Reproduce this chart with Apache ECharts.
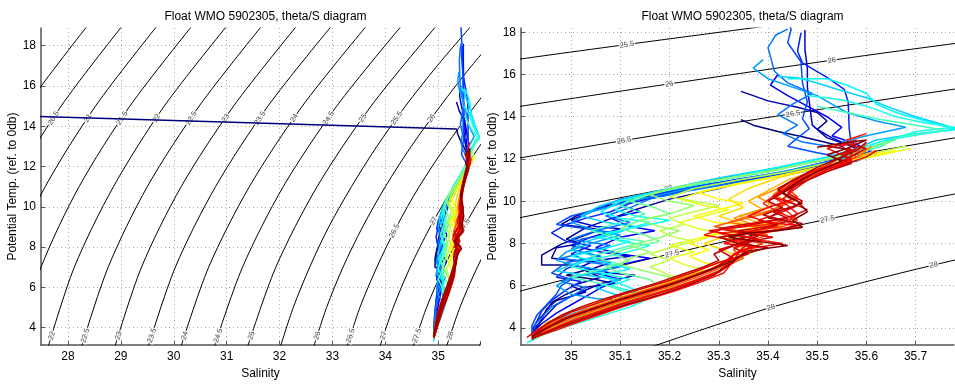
<!DOCTYPE html>
<html><head><meta charset="utf-8">
<script src="https://cdn.jsdelivr.net/npm/echarts@6/dist/echarts.min.js"></script>
<style>html,body{margin:0;padding:0;background:#fff}#c{width:955px;height:385px}</style>
</head><body><div id="c"></div><script>
// ---------- density (sigma-theta) contour levels, salinity read at given temperatures ----------
const sigmaLevels = [20,20.5,21,21.5,22,22.5,23,23.5,24,24.5,25,25.5,26,26.5,27,27.5,28,28.5];
const coarseTemps = [3,7,11,15,19];
const fineTemps = [3,5,7,9,11,13,15,17,19];
const sal200 = [25.12,25.58,26.28,27.22,28.37];
const sal205 = [25.74,26.22,26.93,27.87,29.03];
const sal210 = [26.37,26.85,27.57,28.52,29.69];
const sal215 = [27.00,27.49,28.21,29.17,30.35];
const sal220 = [27.62,28.12,28.86,29.82,31.01];
const sal225 = [28.25,28.76,29.50,30.48,31.67];
const sal230 = [28.88,29.39,30.14,31.13,32.33];
const sal235 = [29.51,30.03,30.79,31.78,32.99];
const sal240 = [30.13,30.66,31.43,32.43,33.65];
const sal245 = [30.76,31.30,32.07,33.08,34.31];
const sal250 = [31.39,31.93,32.71,33.73,34.97];
const sal255 = [32.01,32.26,32.57,32.93,33.36,33.84,34.38,34.98,35.63];
const sal260 = [32.64,32.89,33.20,33.57,34.00,34.49,35.04,35.63,36.29];
const sal265 = [33.27,33.52,33.84,34.21,34.64,35.14,35.69,36.29,36.95];
const sal270 = [33.89,34.15,34.47,34.85,35.29,35.78,36.34,36.95,37.61];
const sal275 = [34.52,34.78,35.11,35.49,35.93,36.43,36.99];
const sal280 = [35.15,35.41,35.74,36.13,36.57,37.08];
const sal285 = [35.77,36.04,36.38,36.77];
const contourSal = [sal200,sal205,sal210,sal215,sal220,sal225,sal230,sal235,sal240,sal245,sal250,sal255,sal260,sal265,sal270,sal275,sal280,sal285];

// ---------- float profiles [salinity, potential temperature], earliest first ----------
const badPoint = [20.0, 15.08];
const p00 = [[35.345,13.86],[35.37,13.6],[35.42,13.3],[35.47,13.05],[35.55,12.6],[35.57,12.2],[35.52,11.8],[35.44,11.4],[35.33,10.9],[35.22,10.5],[35.13,10.1],[35.06,9.7],[35.01,9.3],[34.98,8.9],[35.06,8.66],[34.98,7.97],[34.94,7.45],[34.94,6.98],[35.0,6.98],[35.04,6.8],[34.99,6.5],[35.05,6.3],[35.09,6.1],[35.02,5.9],[34.99,5.6],[34.96,5.2],[34.95,4.8],[34.93,4.3],[34.92,3.8]];
const p01 = [[35.345,15.2],[35.37,15.0],[35.40,14.75],[35.46,14.45],[35.50,14.2],[35.52,13.8],[35.50,13.4],[35.53,13.0],[35.58,12.5],[35.56,12.1],[35.47,11.6],[35.38,11.1],[35.30,10.6],[35.20,10.1],[35.13,9.6],[35.06,9.0],[35.03,8.75],[34.99,8.2],[35.02,8.0],[34.97,7.8],[34.96,7.3],[35.01,7.2],[35.08,7.1],[35.03,6.7],[35.06,6.4],[35.0,6.0],[35.03,5.7],[34.97,5.3],[34.95,4.9],[34.94,4.4],[34.93,4.0],[34.92,3.7]];
const p02 = [[35.475,18.1],[35.475,17.2],[35.48,16.3],[35.48,15.4],[35.485,14.5],[35.49,13.6],[35.52,13.0],[35.57,12.6],[35.60,12.2],[35.55,11.8],[35.42,11.3],[35.30,10.8],[35.18,10.3],[35.10,9.9],[35.04,9.5],[35.00,9.1],[35.05,8.8],[35.10,8.7],[35.04,8.3],[35.0,7.9],[35.06,7.6],[35.12,7.4],[35.05,7.2],[35.02,6.9],[35.08,6.6],[35.13,6.5],[35.06,6.1],[35.03,5.8],[35.0,5.5],[34.97,5.1],[34.95,4.6],[34.93,4.1],[34.92,3.6]];
const p03 = [[35.42,16.0],[35.405,15.5],[35.44,15.0],[35.48,14.5],[35.52,14.0],[35.55,13.5],[35.53,13.1],[35.58,12.7],[35.61,12.3],[35.57,11.9],[35.45,11.45],[35.33,11.0],[35.23,10.6],[35.15,10.2],[35.10,9.8],[35.14,9.5],[35.08,9.2],[35.12,8.8],[35.17,8.6],[35.1,8.3],[35.05,7.8],[35.1,7.5],[35.16,7.3],[35.1,7.0],[35.05,6.6],[35.1,6.3],[35.06,5.9],[35.03,5.5],[35.0,5.1],[34.97,4.7],[34.94,4.2],[34.92,3.7]];
const p04 = [[35.467,17.97],[35.46,17.1],[35.47,16.55],[35.52,15.86],[35.555,15.3],[35.563,14.7],[35.565,13.43],[35.57,12.6],[35.62,12.3],[35.58,11.9],[35.48,11.5],[35.38,11.1],[35.28,10.7],[35.2,10.35],[35.12,9.9],[35.08,9.5],[35.03,9.2],[34.99,8.9],[34.96,8.5],[34.99,8.1],[35.04,7.9],[35.0,7.5],[35.03,7.2],[34.99,6.8],[34.97,6.4],[35.02,6.2],[34.99,5.8],[34.96,5.3],[34.94,4.8],[34.93,4.3],[34.92,3.9]];
const p05 = [[35.43,18.95],[35.447,18.14],[35.44,17.5],[35.467,16.6],[35.47,15.6],[35.48,14.7],[35.47,13.9],[35.484,13.43],[35.46,13.0],[35.44,12.6],[35.50,12.3],[35.57,12.0],[35.50,11.6],[35.40,11.2],[35.28,10.8],[35.18,10.4],[35.1,10.1],[35.05,9.6],[35.0,9.3],[34.97,8.9],[35.03,8.7],[35.09,8.5],[35.02,8.2],[35.0,7.7],[35.06,7.4],[34.99,7.1],[34.96,6.6],[35.0,6.3],[34.98,6.0],[34.97,5.6],[34.95,5.1],[34.93,4.6],[34.92,4.1],[34.92,3.7]];
const p06 = [[35.44,18.15],[35.416,17.87],[35.40,17.27],[35.413,16.15],[35.44,15.6],[35.49,15.1],[35.45,14.6],[35.42,14.1],[35.46,13.6],[35.43,13.2],[35.47,12.8],[35.55,12.5],[35.62,12.2],[35.56,11.8],[35.45,11.3],[35.34,10.9],[35.24,10.5],[35.16,10.1],[35.12,9.7],[35.07,9.3],[35.12,9.0],[35.05,8.6],[35.0,8.2],[35.08,7.9],[35.03,7.6],[34.98,7.3],[35.04,7.1],[35.1,6.9],[35.02,6.5],[34.98,6.2],[35.03,5.9],[35.0,5.5],[34.96,5.0],[34.94,4.5],[34.92,4.0],[34.92,3.6]];
const p07 = [[35.39,16.7],[35.37,16.3],[35.40,15.8],[35.45,15.4],[35.5,15.0],[35.53,14.6],[35.56,14.2],[35.62,13.8],[35.68,13.5],[35.6,13.1],[35.55,12.8],[35.6,12.4],[35.55,12.0],[35.45,11.5],[35.34,11.0],[35.22,10.5],[35.12,10.0],[35.04,9.5],[35.0,9.0],[35.05,8.6],[35.1,8.4],[35.04,8.0],[34.99,7.6],[34.97,7.2],[35.02,6.9],[35.07,6.7],[35.0,6.4],[34.97,6.0],[35.0,5.6],[35.05,5.4],[35.1,5.3],[35.03,4.9],[34.97,4.4],[34.94,4.0],[34.92,3.6]];
const p08 = [[35.42,15.9],[35.46,15.85],[35.5,15.6],[35.54,15.3],[35.6,14.9],[35.64,14.5],[35.7,14.0],[35.76,13.6],[35.78,13.4],[35.7,13.2],[35.62,12.9],[35.58,12.5],[35.52,12.1],[35.42,11.6],[35.3,11.1],[35.2,10.6],[35.12,10.2],[35.06,9.8],[35.02,9.3],[35.07,9.0],[35.13,8.8],[35.08,8.4],[35.03,8.1],[35.0,7.7],[35.05,7.4],[35.0,7.0],[34.97,6.7],[35.03,6.5],[35.1,6.3],[35.05,5.9],[35.1,5.5],[35.14,5.3],[35.08,4.9],[35.0,4.3],[34.95,3.9],[34.92,3.5]];
const p09 = [[35.44,15.8],[35.52,15.8],[35.56,15.5],[35.6,15.1],[35.62,14.6],[35.66,14.2],[35.72,13.8],[35.78,13.4],[35.72,13.2],[35.64,12.9],[35.6,12.6],[35.55,12.2],[35.46,11.8],[35.36,11.3],[35.26,10.8],[35.17,10.4],[35.1,10.0],[35.06,9.5],[35.1,9.2],[35.16,9.0],[35.1,8.6],[35.05,8.3],[35.12,8.1],[35.06,7.7],[35.0,7.4],[35.07,7.1],[35.12,6.8],[35.06,6.5],[35.1,6.1],[35.15,5.6],[35.1,5.2],[35.04,4.7],[34.98,4.2],[34.94,3.8],[34.92,3.4]];
const p10 = [[35.48,15.0],[35.55,14.8],[35.6,14.5],[35.66,14.0],[35.72,13.7],[35.78,13.5],[35.7,13.3],[35.66,13.0],[35.63,12.6],[35.57,12.2],[35.48,11.8],[35.38,11.3],[35.28,10.9],[35.18,10.5],[35.12,10.1],[35.09,9.6],[35.13,9.3],[35.2,9.1],[35.14,8.8],[35.07,8.5],[35.1,8.1],[35.16,7.9],[35.1,7.5],[35.03,7.2],[35.0,6.9],[35.06,6.6],[35.12,6.3],[35.08,6.0],[35.13,5.7],[35.17,5.5],[35.12,5.0],[35.05,4.5],[34.98,4.0],[34.94,3.65],[34.91,3.3]];
const p11 = [[35.5,14.5],[35.56,14.2],[35.62,13.9],[35.7,13.6],[35.76,13.35],[35.68,13.1],[35.64,12.8],[35.6,12.5],[35.52,12.0],[35.42,11.5],[35.3,11.0],[35.2,10.6],[35.14,10.2],[35.1,9.8],[35.15,9.4],[35.1,9.0],[35.04,8.6],[35.09,8.3],[35.15,8.1],[35.09,7.7],[35.04,7.4],[35.1,7.0],[35.05,6.7],[35.0,6.4],[35.06,6.1],[35.1,5.8],[35.15,5.5],[35.1,5.1],[35.03,4.5],[34.97,4.0],[34.93,3.55]];
const p12 = [[35.66,12.9],[35.62,12.6],[35.56,12.2],[35.46,11.7],[35.35,11.2],[35.25,10.8],[35.17,10.4],[35.12,10.0],[35.17,9.7],[35.2,9.4],[35.14,9.1],[35.1,8.7],[35.15,8.4],[35.18,8.1],[35.12,7.8],[35.08,7.5],[35.12,7.2],[35.07,6.9],[35.1,6.6],[35.16,6.3],[35.18,5.9],[35.14,5.5],[35.08,5.0],[35.02,4.5],[34.97,4.0],[34.93,3.6]];
const p13 = [[35.64,12.8],[35.6,12.4],[35.52,12.0],[35.42,11.5],[35.32,11.1],[35.22,10.7],[35.16,10.3],[35.2,10.0],[35.25,9.8],[35.2,9.4],[35.14,9.1],[35.18,8.8],[35.22,8.6],[35.17,8.2],[35.12,7.9],[35.16,7.6],[35.12,7.3],[35.1,7.0],[35.15,6.7],[35.2,6.4],[35.22,6.1],[35.17,5.6],[35.1,5.1],[35.03,4.5],[34.97,3.95],[34.93,3.55]];
const p14 = [[35.68,12.6],[35.62,12.3],[35.54,11.9],[35.44,11.4],[35.34,11.0],[35.25,10.6],[35.2,10.2],[35.25,10.0],[35.3,9.8],[35.25,9.5],[35.2,9.2],[35.23,8.9],[35.18,8.6],[35.21,8.3],[35.25,8.1],[35.2,7.8],[35.16,7.5],[35.2,7.2],[35.16,6.9],[35.2,6.5],[35.24,6.3],[35.19,5.9],[35.12,5.35],[35.05,4.8],[34.99,4.25],[34.95,3.85],[34.92,3.5]];
const p15 = [[35.69,12.5],[35.63,12.2],[35.55,11.8],[35.45,11.3],[35.36,10.9],[35.27,10.5],[35.22,10.1],[35.27,9.8],[35.32,9.6],[35.27,9.3],[35.22,9.0],[35.26,8.7],[35.3,8.5],[35.25,8.2],[35.2,7.9],[35.25,7.6],[35.2,7.3],[35.23,7.0],[35.27,6.75],[35.22,6.35],[35.16,5.85],[35.1,5.35],[35.04,4.85],[34.99,4.35],[34.95,3.9],[34.92,3.55]];
const p16 = [[35.66,12.4],[35.6,12.1],[35.52,11.7],[35.42,11.2],[35.33,10.8],[35.26,10.4],[35.3,10.1],[35.35,9.9],[35.3,9.6],[35.25,9.3],[35.29,9.0],[35.35,8.9],[35.42,9.0],[35.36,8.7],[35.29,8.4],[35.24,8.0],[35.28,7.7],[35.24,7.4],[35.27,7.1],[35.3,6.9],[35.24,6.45],[35.18,6.0],[35.12,5.5],[35.06,5.0],[35.0,4.5],[34.95,4.0],[34.92,3.6]];
const p17 = [[35.63,12.35],[35.58,12.0],[35.5,11.6],[35.42,11.1],[35.36,10.6],[35.32,10.1],[35.35,9.7],[35.3,9.3],[35.34,9.0],[35.38,8.7],[35.32,8.4],[35.27,8.0],[35.31,7.7],[35.34,7.35],[35.3,7.1],[35.24,6.6],[35.19,6.2],[35.14,5.85],[35.09,5.5],[35.04,5.1],[34.99,4.7],[34.95,4.25],[34.93,3.9],[34.92,3.65]];
const p18 = [[35.62,12.4],[35.57,12.0],[35.5,11.5],[35.44,11.0],[35.4,10.5],[35.36,10.0],[35.39,9.6],[35.34,9.3],[35.38,9.0],[35.43,8.9],[35.37,8.6],[35.31,8.3],[35.34,7.9],[35.37,7.6],[35.33,7.3],[35.31,7.0],[35.25,6.55],[35.2,6.15],[35.15,5.8],[35.1,5.45],[35.05,5.05],[35.0,4.6],[34.96,4.2],[34.93,3.8]];
const p19 = [[35.6,12.5],[35.58,12.1],[35.52,11.6],[35.46,11.1],[35.42,10.6],[35.38,10.2],[35.41,9.8],[35.37,9.5],[35.33,9.2],[35.37,8.9],[35.42,8.8],[35.36,8.5],[35.32,8.2],[35.35,7.8],[35.3,6.9],[35.25,6.45],[35.2,6.05],[35.15,5.7],[35.1,5.35],[35.05,4.95],[35.0,4.55],[34.96,4.1],[34.92,3.6]];
const p20 = [[35.61,12.6],[35.59,12.2],[35.54,11.7],[35.48,11.2],[35.44,10.8],[35.41,10.3],[35.44,10.0],[35.41,9.6],[35.36,9.3],[35.32,9.0],[35.37,8.8],[35.44,8.7],[35.39,8.5],[35.35,8.1],[35.37,7.8],[35.35,7.4],[35.32,7.05],[35.26,6.6],[35.21,6.2],[35.16,5.85],[35.11,5.5],[35.06,5.1],[35.01,4.7],[34.96,4.25],[34.92,3.7]];
const p21 = [[35.6,12.7],[35.58,12.3],[35.55,11.8],[35.5,11.3],[35.45,10.9],[35.43,10.4],[35.46,10.1],[35.43,9.8],[35.39,9.4],[35.34,9.1],[35.29,8.8],[35.34,8.6],[35.4,8.4],[35.36,8.1],[35.33,7.7],[35.35,7.3],[35.3,6.8],[35.25,6.35],[35.2,5.95],[35.15,5.6],[35.1,5.25],[35.05,4.85],[35.0,4.45],[34.96,4.05],[34.93,3.7],[34.92,3.5]];
const p22 = [[35.58,12.8],[35.56,12.4],[35.58,12.1],[35.53,11.6],[35.48,11.1],[35.44,10.6],[35.46,10.2],[35.42,9.8],[35.44,9.5],[35.46,9.1],[35.43,8.8],[35.37,8.6],[35.3,8.5],[35.34,8.2],[35.39,8.0],[35.34,7.6],[35.3,6.95],[35.25,6.5],[35.2,6.1],[35.15,5.75],[35.1,5.4],[35.05,5.0],[35.0,4.6],[34.96,4.15],[34.93,3.8],[34.92,3.55]];
const p23 = [[35.55,12.6],[35.57,12.2],[35.55,11.8],[35.5,11.4],[35.46,10.9],[35.42,10.4],[35.39,9.9],[35.42,9.5],[35.45,9.2],[35.4,8.9],[35.31,8.7],[35.27,8.4],[35.32,8.2],[35.37,7.9],[35.33,7.5],[35.32,7.1],[35.3,6.7],[35.25,6.25],[35.2,5.85],[35.15,5.5],[35.1,5.15],[35.05,4.75],[35.0,4.35],[34.96,3.95],[34.93,3.65]];
const p24 = [[35.6,13.2],[35.56,12.9],[35.58,12.5],[35.55,12.1],[35.52,11.7],[35.47,11.2],[35.44,10.7],[35.41,10.2],[35.44,9.8],[35.46,9.4],[35.44,9.0],[35.47,8.77],[35.4,8.6],[35.34,8.45],[35.37,8.2],[35.43,8.0],[35.36,7.75],[35.33,7.2],[35.31,6.6],[35.26,6.15],[35.21,5.75],[35.16,5.4],[35.11,5.05],[35.06,4.65],[35.01,4.25],[34.97,3.9],[34.93,3.6],[34.92,3.45]];
const p25 = [[35.55,12.6],[35.58,12.9],[35.52,12.5],[35.57,12.0],[35.5,11.5],[35.45,11.0],[35.42,10.5],[35.45,10.1],[35.4,9.7],[35.36,9.3],[35.4,9.0],[35.46,8.85],[35.41,8.6],[35.36,8.3],[35.31,8.0],[35.37,7.85],[35.33,7.45],[35.29,6.8],[35.24,6.35],[35.19,5.95],[35.14,5.6],[35.09,5.25],[35.04,4.85],[34.99,4.45],[34.95,4.05],[34.92,3.55]];
const p26 = [[35.58,12.5],[35.55,12.2],[35.57,11.9],[35.52,11.5],[35.48,11.0],[35.45,10.5],[35.43,10.1],[35.46,9.8],[35.42,9.4],[35.38,9.1],[35.42,8.85],[35.37,8.6],[35.32,8.35],[35.36,8.0],[35.34,7.6],[35.33,7.1],[35.3,6.65],[35.25,6.2],[35.2,5.8],[35.15,5.45],[35.1,5.1],[35.05,4.7],[35.0,4.3],[34.96,3.9],[34.93,3.6]];
const p27 = [[35.62,12.4],[35.6,12.1],[35.55,11.7],[35.5,11.2],[35.46,10.8],[35.44,10.4],[35.47,10.0],[35.45,9.7],[35.41,9.5],[35.44,9.2],[35.38,8.95],[35.33,8.75],[35.28,8.6],[35.33,8.4],[35.38,8.2],[35.33,7.8],[35.36,7.5],[35.3,7.1],[35.25,6.65],[35.2,6.25],[35.15,5.9],[35.1,5.55],[35.05,5.15],[35.0,4.75],[34.96,4.3],[34.93,3.9],[34.91,3.55]];
const p28 = [[35.56,12.7],[35.6,12.5],[35.56,12.0],[35.51,11.5],[35.47,11.1],[35.44,10.6],[35.41,10.2],[35.45,9.9],[35.48,9.6],[35.45,9.3],[35.41,9.1],[35.35,8.9],[35.3,8.7],[35.35,8.5],[35.41,8.3],[35.35,8.05],[35.3,7.7],[35.33,7.3],[35.28,6.75],[35.23,6.3],[35.18,5.9],[35.13,5.55],[35.08,5.2],[35.03,4.8],[34.98,4.4],[34.95,4.0],[34.93,3.7]];
const p29 = [[35.52,12.6],[35.57,12.45],[35.53,12.1],[35.57,11.8],[35.52,11.4],[35.47,10.9],[35.43,10.4],[35.4,10.0],[35.43,9.7],[35.39,9.35],[35.44,9.05],[35.4,8.8],[35.34,8.6],[35.38,8.35],[35.34,8.0],[35.29,7.5],[35.3,7.2],[35.27,6.9],[35.22,6.5],[35.17,6.1],[35.12,5.75],[35.07,5.4],[35.02,5.0],[34.98,4.6],[34.95,4.2],[34.92,3.6]];
const p30 = [[35.6,12.8],[35.58,12.4],[35.54,12.0],[35.5,11.6],[35.46,11.1],[35.42,10.6],[35.44,10.2],[35.47,9.9],[35.43,9.6],[35.4,9.2],[35.47,8.95],[35.44,8.7],[35.37,8.5],[35.3,8.3],[35.34,8.0],[35.4,7.8],[35.35,7.5],[35.32,7.0],[35.29,6.5],[35.24,6.05],[35.19,5.65],[35.14,5.3],[35.09,4.95],[35.04,4.55],[34.99,4.15],[34.95,3.8],[34.92,3.5]];
const p31 = [[35.5,12.55],[35.55,12.75],[35.6,12.9],[35.56,12.5],[35.52,12.2],[35.55,11.9],[35.5,11.4],[35.46,10.9],[35.43,10.4],[35.46,10.0],[35.48,9.5],[35.45,9.1],[35.47,8.77],[35.42,8.6],[35.36,8.5],[35.32,8.3],[35.38,8.1],[35.44,7.9],[35.36,7.65],[35.33,7.2],[35.3,6.9],[35.25,6.45],[35.2,6.05],[35.15,5.7],[35.1,5.35],[35.05,4.95],[35.0,4.55],[34.96,4.1],[34.92,3.6]];
const profiles = [p00,p01,p02,p03,p04,p05,p06,p07,p08,p09,p10,p11,p12,p13,p14,p15,p16,p17,p18,p19,p20,p21,p22,p23,p24,p25,p26,p27,p28,p29,p30,p31];
// position of each profile on the jet colour scale (time order)
const profileColorPos = [0,0.04,0.08,0.12,0.16,0.2,0.24,0.28,0.33,0.37,0.4,0.44,0.48,0.52,0.56,0.6,0.63,0.66,0.7,0.73,0.76,0.79,0.82,0.845,0.86,0.875,0.89,0.905,0.92,0.94,0.96,1.0];

// tick values
const leftSalTicks = [28,29,30,31,32,33,34,35];
const rightSalTicks = [35,35.1,35.2,35.3,35.4,35.5,35.6,35.7];
const tempTicks = [4,6,8,10,12,14,16,18];

// contour label placements: [grid, level, temperature]
const labelSpots = [
  [0,20.5,14.4],[0,21,14.4],[0,21.5,14.4],[0,22,14.4],[0,22.5,14.4],[0,23,14.4],[0,23.5,14.4],[0,24,14.4],[0,24.5,14.4],[0,25,14.4],[0,25.5,14.4],[0,26,14.4],[0,26.5,14.4],
  [0,22,3.6],[0,22.5,3.6],[0,23,3.6],[0,23.5,3.6],[0,24,3.6],[0,24.5,3.6],[0,25,3.6],[0,26,3.6],[0,26.5,3.6],[0,27,3.6],[0,27.5,3.6],[0,28,3.6],
  [0,26.5,8.8],[0,27,9.3],[0,27.5,9.06],
  [1,25.5,17.41],[1,26,15.54],[1,26,16.66],[1,26.5,14.13],[1,26.5,12.87],[1,27,10.58],[1,27.5,7.5],[1,27.5,9.14],[1,28,4.97],[1,28,6.98]
];

const FONT = '"Liberation Sans", Arial, Helvetica, sans-serif';
function jet(t){const f=v=>Math.round(255*Math.max(0,Math.min(1,v)));return 'rgb('+f(1.5-Math.abs(4*t-3))+','+f(1.5-Math.abs(4*t-2))+','+f(1.5-Math.abs(4*t-1))+')';}
function tempsFor(k){return sigmaLevels[k] < 25.5 ? coarseTemps : fineTemps;}
function salAt(k,T){const ts=tempsFor(k), ss=contourSal[k];
  for(let i=0;i<ss.length-1;i++){ if(T>=ts[i]&&T<=ts[i+1]){const f=(T-ts[i])/(ts[i+1]-ts[i]);return ss[i]+f*(ss[i+1]-ss[i]);} }
  return ss[0];}

const chart = echarts.init(document.getElementById('c'), null, {renderer:'canvas'});
const axisCommon = {
  type:'value', scale:true,
  axisLine:{show:true,onZero:false,lineStyle:{color:'#555',width:1.5}},
  axisTick:{show:true,inside:true,length:4,lineStyle:{color:'#555'}},
  axisLabel:{color:'#000',fontSize:12,fontFamily:FONT},
  splitLine:{show:true,lineStyle:{color:'#aaa',type:[1,3],width:1}},
  nameTextStyle:{color:'#000',fontSize:12,fontFamily:FONT},
  nameLocation:'middle'
};
function xAx(g,min,max,ticks){return Object.assign({},axisCommon,{gridIndex:g,min:min,max:max,name:'Salinity',nameGap:16,
  axisTick:Object.assign({},axisCommon.axisTick,{customValues:ticks}),
  axisLabel:Object.assign({},axisCommon.axisLabel,{customValues:ticks,margin:6})});}
function yAx(g,min,max){return Object.assign({},axisCommon,{gridIndex:g,min:min,max:max,name:'Potential Temp. (ref. to 0db)',nameGap:20,
  axisTick:Object.assign({},axisCommon.axisTick,{customValues:tempTicks}),
  axisLabel:Object.assign({},axisCommon.axisLabel,{customValues:tempTicks,margin:5})});}

const series = [];
[0,1].forEach(g=>{
  sigmaLevels.forEach((lv,k)=>{
    const ts=tempsFor(k);
    series.push({type:'line',xAxisIndex:g,yAxisIndex:g,data:contourSal[k].map((s,i)=>[s,ts[i]]),
      showSymbol:false,symbol:'none',smooth:0.3,silent:true,z:1,lineStyle:{color:'#000',width:1},animation:false});
  });
});
[0,1].forEach(g=>{
  profiles.forEach((p,i)=>{
    const d = (g===0 && i===0) ? [badPoint].concat(p) : p;
    series.push({type:'line',xAxisIndex:g,yAxisIndex:g,data:d,showSymbol:false,symbol:'none',silent:true,z:3,
      lineStyle:{color:jet(profileColorPos[i]),width:1.5},animation:false});
  });
});

const option = {
  animation:false,
  backgroundColor:'#fff',
  title:[
    {text:'Float WMO 5902305, theta/S diagram',left:260.5,top:6,textAlign:'center',textStyle:{fontSize:12,fontWeight:'normal',color:'#000',fontFamily:FONT}},
    {text:'Float WMO 5902305, theta/S diagram',left:737.5,top:6,textAlign:'center',textStyle:{fontSize:12,fontWeight:'normal',color:'#000',fontFamily:FONT}}
  ],
  grid:[{left:41,top:28,width:439,height:321},{left:521,top:28,width:433,height:321}],
  xAxis:[xAx(0,27.49,35.79,leftSalTicks),xAx(1,34.898,35.778,rightSalTicks)],
  yAxis:[yAx(0,3.13,18.88),yAx(1,3.19,18.2)],
  series:series
};
chart.setOption(option);

// contour labels, rotated along the contour line
[0,1].forEach(g=>{
  const data=[];
  labelSpots.filter(l=>l[0]===g).forEach(l=>{
    const k=sigmaLevels.indexOf(l[1]); const T=l[2];
    const s=salAt(k,T);
    const a=chart.convertToPixel({gridIndex:g},[salAt(k,T-0.4),T-0.4]);
    const b=chart.convertToPixel({gridIndex:g},[salAt(k,T+0.4),T+0.4]);
    const ang=Math.atan2(a[1]-b[1],b[0]-a[0])*180/Math.PI;
    data.push({value:[s,T],label:{rotate:ang,formatter:String(l[1])}});
  });
  series.push({type:'scatter',xAxisIndex:g,yAxisIndex:g,data:data,symbolSize:1,silent:true,z:2,
    itemStyle:{color:'rgba(0,0,0,0)'},
    label:{show:true,position:'inside',fontSize:7.5,color:'#222',fontFamily:FONT,backgroundColor:'#fff',padding:[0,1]},
    animation:false});
});
chart.setOption({series:series});
</script></body></html>
